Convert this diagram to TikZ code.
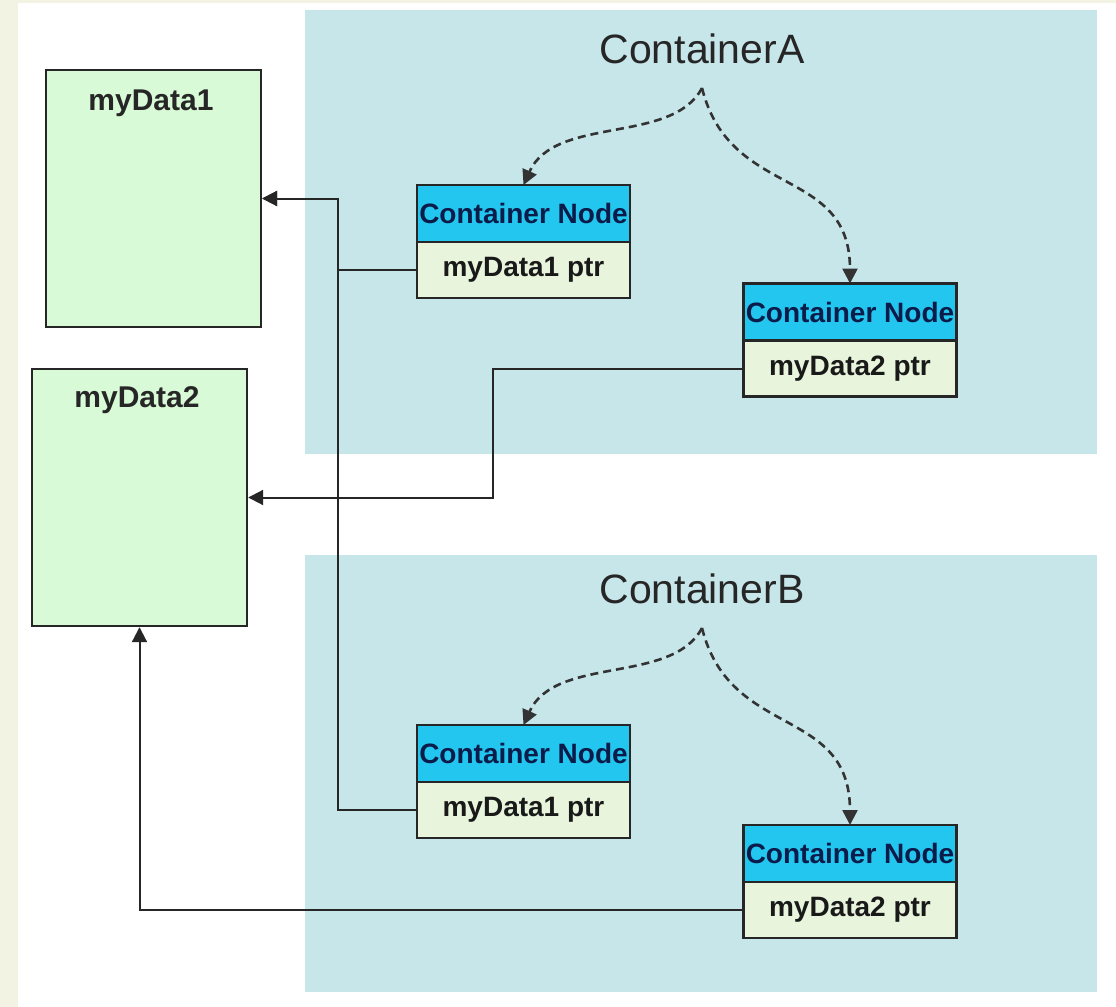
\documentclass[tikz,border=0pt]{standalone}
\usepackage{fontspec}
\setmainfont{Liberation Sans}
\usetikzlibrary{positioning,arrows.meta}

\definecolor{paper}{HTML}{F3F3E3}
\definecolor{contbg}{HTML}{C6E6EA}
\definecolor{datagreen}{HTML}{D8FAD6}
\definecolor{headcyan}{HTML}{22C6EE}
\definecolor{bodycream}{HTML}{E8F5DC}
\definecolor{navy}{HTML}{0C1C4A}

\tikzset{
  contbox/.style={fill=contbg,inner sep=0pt,outer sep=0pt,minimum width=396pt},
  conttitle/.style={font=\fontsize{20.5}{24}\selectfont,text=black!85},
  databox/.style={draw=black!85,line width=1.2pt,fill=datagreen,minimum width=107.5pt,minimum height=128.5pt,inner sep=0pt},
  datatitle/.style={font=\bfseries\fontsize{15}{18}\selectfont,text=black!85},
  nodehead/.style={draw=black!85,line width=1.2pt,fill=headcyan,minimum width=106.5pt,minimum height=28.5pt,inner sep=0pt,outer sep=0pt,font=\bfseries\fontsize{14}{16}\selectfont,text=navy},
  nodebody/.style={draw=black!85,line width=1.2pt,fill=bodycream,minimum width=106.5pt,minimum height=28pt,inner sep=0pt,outer sep=0pt,font=\bfseries\fontsize{14}{16}\selectfont,text=black!90},
  ptr/.style={draw=black!85,line width=1pt,-{Triangle[length=7.5pt,width=7.5pt]}},
  owns/.style={draw=black!80,line width=1.3pt,dash pattern=on 4pt off 2.5pt,-{Triangle[length=7.5pt,width=7.5pt]}}
}

\begin{document}
\begin{tikzpicture}[x=0.5pt,y=-0.5pt]
\useasboundingbox (0,0) rectangle (1116,1007);
\fill[paper] (0,0) rectangle (1116,1007);
\fill[white] (18,3) rectangle (1116,1007);

% the two containers
\node[contbox,minimum height=222pt] (contA) at (701,232) {};
\node[contbox,minimum height=218.5pt] (contB) at (701,773.5) {};
\node[conttitle] (labA) at (702,49) {ContainerA};
\node[conttitle] (labB) at (702,589) {ContainerB};

% the data
\node[databox] (d1) at (153.5,198.5) {};
\node[datatitle] (t1) at (151,103) {myData1};
\node[databox] (d2) at (139.5,497.5) {};
\node[datatitle] (t2) at (137,400) {myData2};

% container nodes
\node[nodehead] (a1head) at (523.5,213.5) {Container Node};
\node[nodebody,below=0pt of a1head] (a1ptr) {myData1 ptr};
\node[nodehead] (a2head) at (850,312) {Container Node};
\node[nodebody,below=0pt of a2head] (a2ptr) {myData2 ptr};
\node[nodehead] (b1head) at (523.5,753.5) {Container Node};
\node[nodebody,below=0pt of b1head] (b1ptr) {myData1 ptr};
\node[nodehead] (b2head) at (850,853.5) {Container Node};
\node[nodebody,below=0pt of b2head] (b2ptr) {myData2 ptr};

\coordinate (srcA) at (702,88);
\coordinate (srcB) at (702,628);
\coordinate (j1) at (338,198.5);
\coordinate (j2) at (493,497.5);

\draw[owns] (srcA) .. controls (672,145) and (555,115) .. (a1head.north);
\draw[owns] (srcA) .. controls (730,200) and (850,165) .. (a2head.north);
\draw[owns] (srcB) .. controls (672,685) and (555,655) .. (b1head.north);
\draw[owns] (srcB) .. controls (730,740) and (850,705) .. (b2head.north);

\draw[ptr] (a1ptr.west) -| (j1) -- (d1.east);
\draw[ptr] (b1ptr.west) -| (j1) -- (d1.east);
\draw[ptr] (a2ptr.west) -| (j2) -- (d2.east);
\draw[ptr] (b2ptr.west) -| (d2.south);
\end{tikzpicture}
\end{document}
